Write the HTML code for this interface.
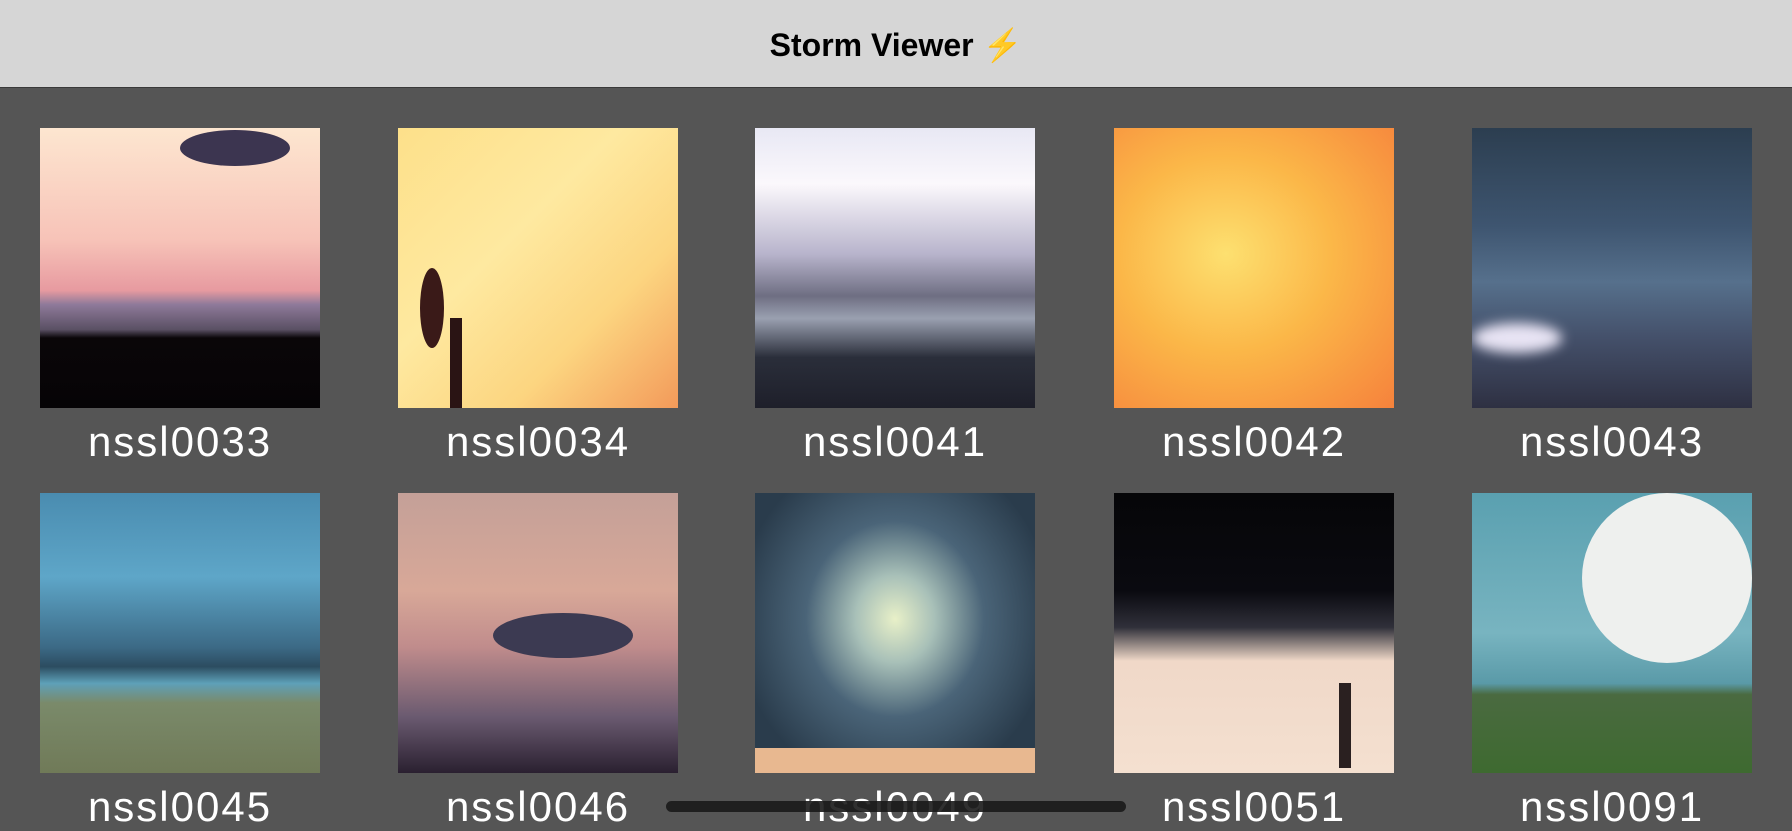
<!DOCTYPE html>
<html><head><meta charset="utf-8"><style>
body{margin:0;width:1792px;height:828px;background:#555;overflow:hidden;font-family:"Liberation Sans",sans-serif;position:relative}
.nav{position:absolute;left:0;top:0;width:1792px;height:87px;background:#d6d6d6;border-bottom:1px solid #3a3a3a}
.title{position:absolute;left:0;width:1792px;top:26px;text-align:center;font-weight:bold;font-size:32px;color:#000}
.cell{position:absolute;width:280px}
.img{width:280px;height:280px;position:relative;overflow:hidden}
.lbl{color:#fff;font-size:42px;letter-spacing:2px;text-align:center;margin-top:10px;white-space:nowrap;margin-left:-20px;width:320px}
.home{position:absolute;left:666px;top:801px;width:460px;height:11px;border-radius:6px;background:rgba(25,25,25,0.9)}
</style></head><body>
<div class="nav"><div class="title">Storm Viewer <span style="color:#f4b400">⚡</span></div></div>

<div class="cell" style="left:40px;top:128px"><div class="img" style="background:linear-gradient(180deg,#fde6d0 0%,#f7c3b8 40%,#e79aa0 58%,#8f7a9a 63%,#5a5064 72%,#0a0608 75%,#060406 100%)"><div style="position:absolute;left:140px;top:2px;width:110px;height:36px;border-radius:50%;background:#3c3550"></div></div><div class="lbl">nssl0033</div></div>
<div class="cell" style="left:398px;top:128px"><div class="img" style="background:linear-gradient(135deg,#fde08a 0%,#fee9a0 40%,#fcd580 70%,#f39a5a 100%)"><div style="position:absolute;left:22px;top:140px;width:24px;height:80px;border-radius:50%;background:#3a1a18"></div><div style="position:absolute;left:52px;top:190px;width:12px;height:90px;background:#2a1414"></div></div><div class="lbl">nssl0034</div></div>
<div class="cell" style="left:755px;top:128px"><div class="img" style="background:linear-gradient(180deg,#e8e8f4 0%,#fbf8fc 20%,#b8b4cc 45%,#6e6e82 60%,#9aa0b0 68%,#2a2e3a 82%,#1e1f2a 100%)"></div><div class="lbl">nssl0041</div></div>
<div class="cell" style="left:1114px;top:128px"><div class="img" style="background:radial-gradient(ellipse at 40% 45%,#fde070 0%,#fbb748 45%,#f6823c 100%)"></div><div class="lbl">nssl0042</div></div>
<div class="cell" style="left:1472px;top:128px"><div class="img" style="background:linear-gradient(180deg,#2c3e50 0%,#3e5570 35%,#56708c 55%,#44506a 75%,#2e3042 100%)"><div style="position:absolute;left:0;top:195px;width:90px;height:30px;border-radius:50%;background:#e8e4f4;filter:blur(6px)"></div></div><div class="lbl">nssl0043</div></div>

<div class="cell" style="left:40px;top:493px"><div class="img" style="background:linear-gradient(180deg,#4a8cb0 0%,#5ea6c8 30%,#3c6a86 55%,#2c4c60 62%,#5ea0b8 68%,#7a8a6a 75%,#707a58 100%)"></div><div class="lbl">nssl0045</div></div>
<div class="cell" style="left:398px;top:493px"><div class="img" style="background:linear-gradient(180deg,#c4a098 0%,#d8a898 35%,#c08c8c 55%,#6a5a70 80%,#2a2030 100%)"><div style="position:absolute;left:95px;top:120px;width:140px;height:45px;border-radius:50%;background:#3c3a52"></div></div><div class="lbl">nssl0046</div></div>
<div class="cell" style="left:755px;top:493px"><div class="img" style="background:radial-gradient(ellipse at 50% 45%,#e8f0c8 0%,#a8c0b8 20%,#4a6478 45%,#2a3c4c 80%);"><div style="position:absolute;left:0;top:255px;width:280px;height:25px;background:#e8b890"></div></div><div class="lbl">nssl0049</div></div>
<div class="cell" style="left:1114px;top:493px"><div class="img" style="background:linear-gradient(180deg,#060608 0%,#0a0a10 35%,#30303a 48%,#f0d8c8 60%,#f4e0d0 100%)"><div style="position:absolute;left:225px;top:190px;width:12px;height:85px;background:#2a2020"></div></div><div class="lbl">nssl0051</div></div>
<div class="cell" style="left:1472px;top:493px"><div class="img" style="background:linear-gradient(180deg,#5aa0b0 0%,#78b4c0 50%,#5a9aa8 68%,#4a6a40 72%,#3e6a30 100%)"><div style="position:absolute;left:110px;top:0px;width:170px;height:170px;border-radius:50%;background:#eef0ee"></div></div><div class="lbl">nssl0091</div></div>

<div class="home"></div>
</body></html>
